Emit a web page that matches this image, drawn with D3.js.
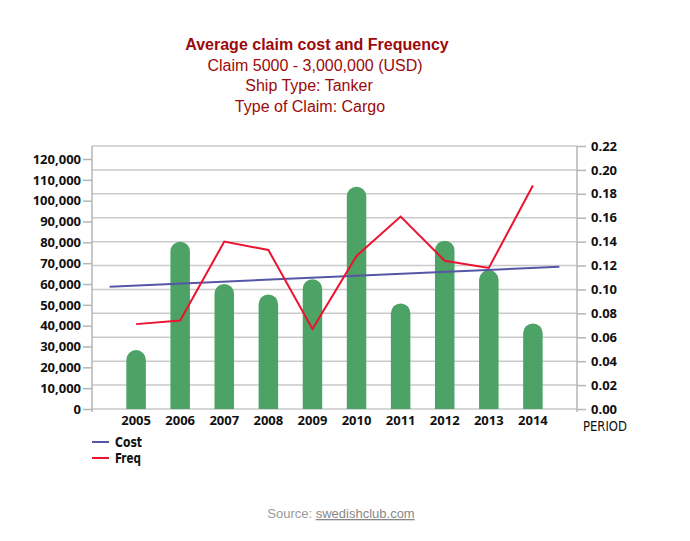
<!DOCTYPE html>
<html>
<head>
<meta charset="utf-8">
<script src="https://cdn.jsdelivr.net/npm/d3@7"></script>
<style>
  body { margin: 0; background: #fff; }
  svg { display: block; }
</style>
</head>
<body>
<svg id="chart" width="690" height="541"></svg>
<script>
// values
var years = [2005, 2006, 2007, 2008, 2009, 2010, 2011, 2012, 2013, 2014];
var cost = [28300, 80300, 60000, 55000, 62300, 106700, 50700, 80800, 66700, 41100];
var freq = [0.071, 0.074, 0.140, 0.133, 0.067, 0.128, 0.161, 0.124, 0.118, 0.187];
var costTrendYears = [2004.4, 2014.6];
var costTrendValues = [58700, 68300];
var costTicks = d3.range(0, 120001, 10000);
var freqTicks = d3.range(0, 0.2201, 0.02);
var titleLines = ['Average claim cost and Frequency', 'Claim 5000 - 3,000,000 (USD)', 'Ship Type: Tanker', 'Type of Claim: Cargo'];

var svg = d3.select('#chart');
var left = 92, right = 577, bottom = 409;
var narrow = '"DejaVu Sans Condensed", "DejaVu Sans", sans-serif';

var x = d3.scaleLinear().domain([2004, 2015]).range([left, right]);
var yL = d3.scaleLinear().domain([0, 120000]).range([bottom, 159]);
var yR = d3.scaleLinear().domain([0, 0.22]).range([bottom, 146]);

// title
svg.append('g').selectAll('text')
    .data(titleLines)
    .enter().append('text')
    .attr('x', function(d, i) { return [317, 315, 309, 310][i]; })
    .attr('y', function(d, i) { return 50 + i * 20.5; })
    .attr('text-anchor', 'middle')
    .style('font-family', '"Liberation Sans", Arial, sans-serif')
    .style('font-size', '16px')
    .style('font-weight', function(d, i) { return i === 0 ? 'bold' : 'normal'; })
    .style('fill', '#9c0a0a')
    .text(function(d) { return d; });

// gridlines (right axis ticks)
svg.append('g').selectAll('line')
    .data(freqTicks)
    .enter().append('line')
    .attr('x1', left).attr('x2', right)
    .attr('y1', function(d) { return yR(d); })
    .attr('y2', function(d) { return yR(d); })
    .style('stroke', '#c9c9c9')
    .style('stroke-width', 1.5);

// axis lines
svg.append('line').attr('x1', left).attr('x2', left).attr('y1', yR(0.22)).attr('y2', bottom + 3)
    .style('stroke', '#b5b5b5').style('stroke-width', 1.5);
svg.append('line').attr('x1', right).attr('x2', right).attr('y1', yR(0.22)).attr('y2', bottom + 3)
    .style('stroke', '#b5b5b5').style('stroke-width', 1.5);

var axisLeft = svg.append('g')
    .attr('transform', 'translate(' + left + ',0)')
    .call(d3.axisLeft(yL).tickValues(costTicks).tickFormat(d3.format(',')).tickSize(9).tickPadding(2));
var axisRight = svg.append('g')
    .attr('transform', 'translate(' + right + ',0)')
    .call(d3.axisRight(yR).tickValues(freqTicks).tickFormat(d3.format('.2f')).tickSize(9).tickPadding(5));

[axisLeft, axisRight].forEach(function(a) {
  a.select('.domain').remove();
  a.selectAll('.tick line').style('stroke', '#b5b5b5').style('stroke-width', 1.5);
  a.selectAll('.tick text')
      .style('font-family', '"Open Sans", sans-serif')
      .style('font-size', '13px')
      .style('font-weight', 700)
      .style('fill', '#111');
});

// bars with round tops
var bw = 19.5, r = bw / 2;
svg.append('g').selectAll('path')
    .data(years)
    .enter().append('path')
    .attr('d', function(d, i) {
      var x0 = x(d) - r, x1 = x(d) + r, top = yL(cost[i]);
      return 'M' + x0 + ',' + bottom + 'V' + (top + r) +
             'A' + r + ',' + r + ' 0 0 1 ' + x1 + ',' + (top + r) +
             'V' + bottom + 'Z';
    })
    .style('fill', '#4ca365');

// cost trend line
var trend = costTrendYears.map(function(d, i) { return [d, costTrendValues[i]]; });
svg.append('path')
    .datum(trend)
    .attr('d', d3.line().x(function(d) { return x(d[0]); }).y(function(d) { return yL(d[1]); }))
    .style('fill', 'none')
    .style('stroke', '#5656a6')
    .style('stroke-width', 2);

// frequency line
svg.append('path')
    .datum(years)
    .attr('d', d3.line().x(function(d) { return x(d); }).y(function(d, i) { return yR(freq[i]); }))
    .style('fill', 'none')
    .style('stroke', '#ec1230')
    .style('stroke-width', 2);

// year labels
svg.append('g').selectAll('text')
    .data(years)
    .enter().append('text')
    .attr('x', function(d) { return x(d); })
    .attr('y', 425)
    .attr('text-anchor', 'middle')
    .style('font-family', '"Open Sans", sans-serif')
    .style('font-size', '13px')
    .style('font-weight', 700)
    .style('fill', '#111')
    .text(function(d) { return d; });

svg.append('text')
    .attr('x', 583).attr('y', 431)
    .attr('textLength', 44)
    .attr('lengthAdjust', 'spacingAndGlyphs')
    .style('font-family', narrow)
    .style('font-stretch', 'condensed')
    .style('font-size', '14px')
    .style('fill', '#111')
    .text('PERIOD');

// legend
var legend = svg.append('g').selectAll('g')
    .data([['Cost', '#5656a6', 27], ['Freq', '#ec1230', 26]])
    .enter().append('g')
    .attr('transform', function(d, i) { return 'translate(92,' + (442 + i * 16) + ')'; });
legend.append('line')
    .attr('x1', 0).attr('x2', 17)
    .style('stroke', function(d) { return d[1]; })
    .style('stroke-width', 2);
legend.append('text')
    .attr('x', 23).attr('y', 4.5)
    .attr('textLength', function(d) { return d[2]; })
    .attr('lengthAdjust', 'spacingAndGlyphs')
    .style('font-family', narrow)
    .style('font-stretch', 'condensed')
    .style('font-size', '14px')
    .style('font-weight', 'bold')
    .style('fill', '#111')
    .text(function(d) { return d[0]; });

// source
var src = svg.append('text')
    .attr('x', 341).attr('y', 518)
    .attr('text-anchor', 'middle')
    .style('font-family', '"Liberation Sans", Arial, sans-serif')
    .style('font-size', '13px')
    .style('fill', '#999');
src.append('tspan').text('Source: ');
src.append('tspan').style('text-decoration', 'underline').style('fill', '#888').text('swedishclub.com');
</script>
</body>
</html>
